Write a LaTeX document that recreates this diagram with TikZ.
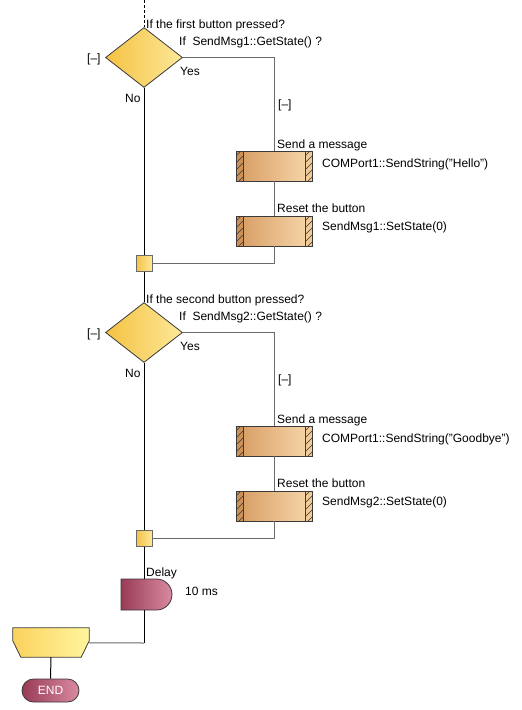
\documentclass[tikz,border=0pt]{standalone}
\usepackage{fontspec}
\setmainfont{Liberation Sans}
\usetikzlibrary{shapes.geometric,shapes.misc,calc}
\definecolor{outl}{HTML}{3A3A3A}
\definecolor{dmL}{HTML}{F4C243}
\definecolor{dmR}{HTML}{FDE899}
\definecolor{bxL}{HTML}{D69B62}
\definecolor{bxR}{HTML}{F8D8AC}
\definecolor{barL}{HTML}{CD9156}
\definecolor{barR}{HTML}{F2CA94}
\definecolor{mrL}{HTML}{993B57}
\definecolor{mrR}{HTML}{D98AA0}
\definecolor{ebL}{HTML}{FBD25E}
\definecolor{ebR}{HTML}{FFF59E}
\definecolor{gline}{HTML}{6A6A6A}
\begin{document}
\begin{tikzpicture}[x=1pt,y=-1pt,
  font=\fontsize{12}{14}\selectfont,
  lbl/.style={anchor=base west, inner sep=0pt, text=black},
  dec/.style={diamond, draw=outl, line width=0.8pt, minimum width=77pt, minimum height=60pt, inner sep=0pt, left color=dmL, right color=dmR},
  hatch/.style={draw=outl, line width=0.6pt},
  proc/.style={rectangle, draw=outl, line width=0.8pt, minimum width=76pt, minimum height=30pt, inner sep=0pt, left color=bxL, right color=bxR,
    path picture={
        \fill[barL] (-38,-15) rectangle (-31,15);
        \fill[barR] (31,-15) rectangle (38,15);
        \draw[outl, line width=0.8pt] (-31,-15) -- (-31,15) (31,-15) -- (31,15);
        \begin{scope}
          \clip (-38,-15) rectangle (-31,15);
          \foreach \k in {-10,-3,...,32} \draw[hatch] (-38,\k) -- (-31,\k-7);
        \end{scope}
        \begin{scope}
          \clip (31,-15) rectangle (38,15);
          \foreach \k in {-10,-3,...,32} \draw[hatch] (31,\k) -- (38,\k-7);
        \end{scope}
    }},
  jn/.style={rectangle, draw=gline, line width=1pt, minimum size=16pt, inner sep=0pt, left color=dmL, right color=dmR},
  dly/.style={rounded rectangle, rounded rectangle left arc=none, draw=outl, line width=0.8pt, minimum width=51pt, minimum height=31pt, inner sep=0pt, left color=mrL, right color=mrR},
  term/.style={rounded rectangle, draw=outl, line width=0.8pt, minimum width=57pt, minimum height=23pt, inner sep=0pt, left color=mrL, right color=mrR, text=white},
  flow/.style={line width=1pt, draw=black},
  gflow/.style={line width=1pt, draw=gline}
]
\useasboundingbox (0,0) rectangle (522,710);

% ---------- block 1 ----------
\coordinate (top) at (144,0);
\node[dec] (d1) at (144,57.5) {};
\node[lbl] (t1a) at (146,28) {If the first button pressed?};
\node[lbl] (t1b) at (179,45) {If~~SendMsg1::GetState() ?};
\node[lbl] (t1c) at (87,62) {[--]};
\node[lbl] (t1y) at (180,75) {Yes};
\node[lbl] (t1n) at (125,102) {No};
\node[lbl] (t1d) at (278,108) {[--]};
\node[proc] (b1) at (274,166) {};
\node[lbl] (t1s) at (277,148) {Send a message};
\node[lbl] (t1sc) at (322,167) {COMPort1::SendString("Hello")};
\node[proc] (b2) at (274,231) {};
\node[lbl] (t1r) at (277,212) {Reset the button};
\node[lbl] (t1rc) at (322,230) {SendMsg1::SetState(0)};
\node[jn] (j1) at (144,263) {};

\draw[flow, dash pattern=on 3pt off 2pt] (top) -- (d1.north);
\draw[gflow] (d1.east) -| (b1.north);
\draw[gflow] (b1.south) -- (b2.north);
\draw[gflow] (b2.south) |- (j1.east);
\draw[flow] (d1.south) -- (j1.north);

% ---------- block 2 ----------
\node[dec] (d2) at (144,332.5) {};
\node[lbl] (t2a) at (146,303) {If the second button pressed?};
\node[lbl] (t2b) at (179,320) {If~~SendMsg2::GetState() ?};
\node[lbl] (t2c) at (87,337) {[--]};
\node[lbl] (t2y) at (180,350) {Yes};
\node[lbl] (t2n) at (125,377) {No};
\node[lbl] (t2d) at (278,383) {[--]};
\node[proc] (b3) at (274,441) {};
\node[lbl] (t2s) at (277,423) {Send a message};
\node[lbl] (t2sc) at (322,442) {COMPort1::SendString("Goodbye")};
\node[proc] (b4) at (274,506) {};
\node[lbl] (t2r) at (277,487) {Reset the button};
\node[lbl] (t2rc) at (322,505) {SendMsg2::SetState(0)};
\node[jn] (j2) at (144,538) {};

\draw[flow] (j1.south) -- (d2.north);
\draw[gflow] (d2.east) -| (b3.north);
\draw[gflow] (b3.south) -- (b4.north);
\draw[gflow] (b4.south) |- (j2.east);
\draw[flow] (d2.south) -- (j2.north);

% ---------- delay and end ----------
\node[dly] (dl) at (146.5,594.5) {};
\node[lbl] (tdl) at (146,576) {Delay};
\node[lbl] (tms) at (185,595) {10 ms};

\node[rectangle, minimum width=76pt, minimum height=29pt, inner sep=0pt] (eb) at (51,642.5) {};
\path[draw=outl, line width=0.8pt, left color=ebL, right color=ebR]
  (eb.north west) -- (eb.north east) -- ($(eb.north east)+(0,13)$)
  -- ($(eb.south east)+(-8,0)$) -- ($(eb.south west)+(8,0)$)
  -- ($(eb.north west)+(0,13)$) -- cycle;
\coordinate (ebin) at ($(eb.north east)+(0,15)$);
\coordinate (corner) at (144,643);
\node[term] (endt) at (50.5,690.5) {END};

\draw[flow] (j2.south) -- (j2.south |- dl.north);
\draw[flow] (j2.south |- dl.south) -- (corner);
\draw[gflow] (corner) -- (ebin);
\draw[flow] (eb.south) -- (endt.north);
\end{tikzpicture}
\end{document}
